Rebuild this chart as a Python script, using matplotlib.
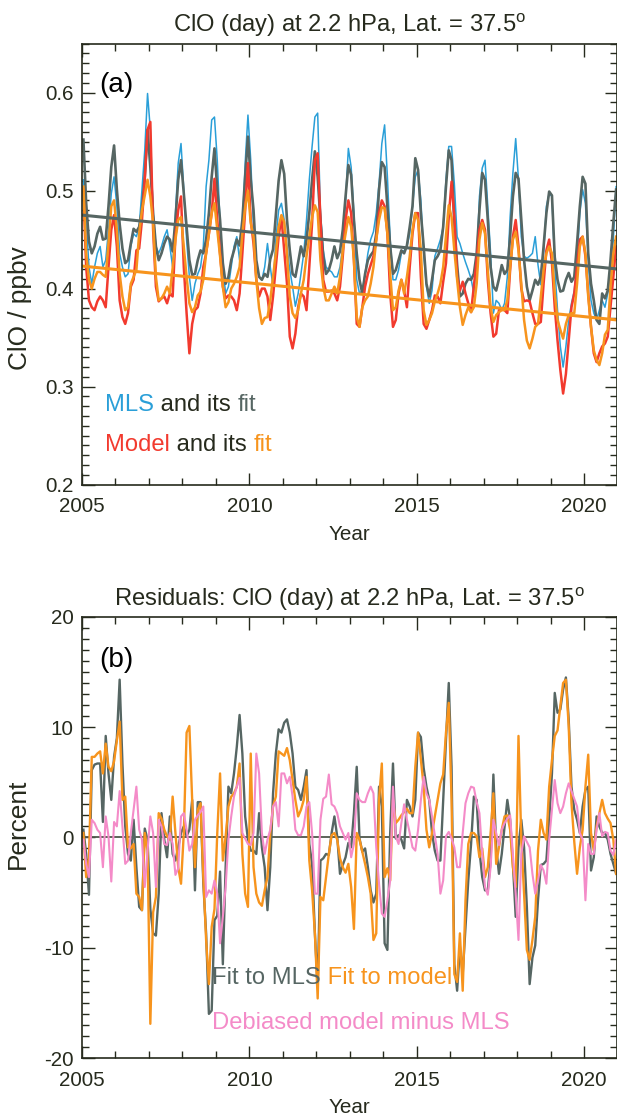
import matplotlib
matplotlib.use("Agg")
import matplotlib.pyplot as plt
from matplotlib import font_manager
from matplotlib.ticker import MultipleLocator, FormatStrFormatter
import numpy as np

# ---- monthly ClO at 2.2 hPa, 37.5 deg, Jan 2005 .. Dec 2020 (ppbv) ----
mls = [
    0.511, 0.470, 0.422, 0.405, 0.422, 0.436, 0.443, 0.422, 0.429, 0.460, 0.497, 0.514,
    0.484, 0.436, 0.422, 0.412, 0.415, 0.443, 0.456, 0.453, 0.463, 0.501, 0.541, 0.599,
    0.562, 0.477, 0.443, 0.436, 0.443, 0.453, 0.460, 0.443, 0.422, 0.477, 0.528, 0.548,
    0.501, 0.450, 0.412, 0.388, 0.405, 0.415, 0.422, 0.443, 0.504, 0.531, 0.572, 0.575,
    0.531, 0.467, 0.422, 0.395, 0.402, 0.422, 0.443, 0.453, 0.429, 0.463, 0.528, 0.577,
    0.531, 0.463, 0.422, 0.412, 0.409, 0.422, 0.446, 0.422, 0.402, 0.450, 0.480, 0.487,
    0.470, 0.443, 0.419, 0.402, 0.382, 0.395, 0.415, 0.436, 0.470, 0.511, 0.545, 0.575,
    0.579, 0.477, 0.439, 0.422, 0.419, 0.417, 0.412, 0.412, 0.422, 0.443, 0.490, 0.543,
    0.524, 0.477, 0.409, 0.395, 0.398, 0.415, 0.436, 0.450, 0.458, 0.477, 0.507, 0.548,
    0.567, 0.514, 0.450, 0.409, 0.409, 0.419, 0.436, 0.439, 0.443, 0.456, 0.484, 0.514,
    0.521, 0.490, 0.436, 0.402, 0.385, 0.398, 0.433, 0.441, 0.450, 0.463, 0.511, 0.545,
    0.545, 0.507, 0.453, 0.446, 0.436, 0.427, 0.419, 0.410, 0.395, 0.429, 0.494, 0.523,
    0.531, 0.484, 0.436, 0.375, 0.388, 0.385, 0.378, 0.385, 0.412, 0.473, 0.518, 0.553,
    0.511, 0.453, 0.433, 0.431, 0.433, 0.436, 0.453, 0.424, 0.404, 0.436, 0.484, 0.497,
    0.494, 0.422, 0.378, 0.341, 0.320, 0.341, 0.368, 0.385, 0.398, 0.429, 0.477, 0.501,
    0.487, 0.429, 0.388, 0.375, 0.368, 0.378, 0.388, 0.381, 0.395, 0.415, 0.450, 0.504,
]
mls_fit = [
    0.552, 0.487, 0.448, 0.436, 0.443, 0.456, 0.463, 0.450, 0.451, 0.484, 0.524, 0.546,
    0.501, 0.466, 0.441, 0.426, 0.429, 0.446, 0.461, 0.458, 0.463, 0.480, 0.514, 0.562,
    0.524, 0.477, 0.443, 0.429, 0.436, 0.446, 0.453, 0.450, 0.438, 0.470, 0.511, 0.531,
    0.497, 0.463, 0.429, 0.414, 0.415, 0.429, 0.439, 0.436, 0.450, 0.477, 0.514, 0.543,
    0.501, 0.470, 0.426, 0.405, 0.412, 0.429, 0.439, 0.450, 0.444, 0.470, 0.514, 0.555,
    0.511, 0.480, 0.429, 0.412, 0.409, 0.415, 0.412, 0.430, 0.440, 0.475, 0.510, 0.531,
    0.517, 0.470, 0.439, 0.415, 0.412, 0.427, 0.443, 0.433, 0.450, 0.477, 0.511, 0.540,
    0.514, 0.470, 0.433, 0.415, 0.419, 0.429, 0.443, 0.431, 0.438, 0.460, 0.494, 0.526,
    0.516, 0.470, 0.436, 0.409, 0.395, 0.415, 0.429, 0.434, 0.438, 0.456, 0.501, 0.529,
    0.524, 0.484, 0.443, 0.415, 0.419, 0.429, 0.439, 0.436, 0.444, 0.463, 0.484, 0.533,
    0.521, 0.477, 0.443, 0.405, 0.392, 0.409, 0.429, 0.433, 0.439, 0.463, 0.504, 0.541,
    0.531, 0.467, 0.424, 0.392, 0.395, 0.405, 0.410, 0.409, 0.415, 0.436, 0.480, 0.518,
    0.511, 0.470, 0.422, 0.402, 0.398, 0.410, 0.424, 0.415, 0.419, 0.453, 0.494, 0.518,
    0.512, 0.470, 0.429, 0.402, 0.388, 0.398, 0.409, 0.404, 0.412, 0.443, 0.477, 0.499,
    0.495, 0.432, 0.409, 0.397, 0.398, 0.409, 0.416, 0.407, 0.412, 0.446, 0.484, 0.514,
    0.507, 0.436, 0.405, 0.388, 0.368, 0.364, 0.395, 0.390, 0.398, 0.429, 0.467, 0.501,
]
model = [
    0.501, 0.422, 0.388, 0.381, 0.378, 0.387, 0.392, 0.388, 0.381, 0.422, 0.460, 0.475,
    0.443, 0.388, 0.371, 0.364, 0.375, 0.402, 0.409, 0.439, 0.441, 0.470, 0.511, 0.562,
    0.570, 0.460, 0.402, 0.387, 0.390, 0.392, 0.385, 0.395, 0.392, 0.453, 0.480, 0.494,
    0.422, 0.375, 0.334, 0.364, 0.378, 0.381, 0.395, 0.422, 0.436, 0.456, 0.477, 0.512,
    0.470, 0.436, 0.402, 0.390, 0.393, 0.392, 0.388, 0.378, 0.395, 0.436, 0.480, 0.528,
    0.470, 0.446, 0.409, 0.392, 0.400, 0.400, 0.392, 0.368, 0.392, 0.422, 0.453, 0.473,
    0.439, 0.405, 0.351, 0.339, 0.354, 0.381, 0.395, 0.392, 0.378, 0.422, 0.467, 0.531,
    0.538, 0.470, 0.409, 0.397, 0.397, 0.398, 0.395, 0.388, 0.402, 0.433, 0.470, 0.490,
    0.477, 0.429, 0.364, 0.361, 0.381, 0.402, 0.415, 0.424, 0.433, 0.450, 0.477, 0.490,
    0.484, 0.456, 0.395, 0.361, 0.368, 0.395, 0.409, 0.398, 0.381, 0.422, 0.456, 0.477,
    0.477, 0.412, 0.364, 0.359, 0.368, 0.378, 0.393, 0.392, 0.385, 0.407, 0.426, 0.473,
    0.509, 0.473, 0.412, 0.398, 0.407, 0.395, 0.385, 0.376, 0.402, 0.429, 0.460, 0.470,
    0.460, 0.409, 0.375, 0.351, 0.354, 0.378, 0.380, 0.378, 0.375, 0.419, 0.453, 0.470,
    0.443, 0.400, 0.387, 0.388, 0.387, 0.375, 0.364, 0.364, 0.366, 0.405, 0.439, 0.450,
    0.426, 0.381, 0.347, 0.317, 0.293, 0.313, 0.347, 0.381, 0.395, 0.422, 0.450, 0.453,
    0.433, 0.395, 0.361, 0.334, 0.325, 0.334, 0.341, 0.344, 0.351, 0.381, 0.412, 0.443,
]
model_fit = [
    0.504, 0.436, 0.409, 0.400, 0.410, 0.417, 0.417, 0.414, 0.412, 0.446, 0.484, 0.490,
    0.460, 0.415, 0.392, 0.378, 0.381, 0.405, 0.412, 0.419, 0.456, 0.480, 0.495, 0.511,
    0.494, 0.467, 0.412, 0.388, 0.390, 0.395, 0.402, 0.395, 0.421, 0.450, 0.470, 0.473,
    0.443, 0.412, 0.385, 0.376, 0.381, 0.393, 0.397, 0.409, 0.436, 0.456, 0.477, 0.487,
    0.460, 0.433, 0.402, 0.381, 0.386, 0.400, 0.405, 0.412, 0.422, 0.456, 0.483, 0.500,
    0.467, 0.453, 0.409, 0.380, 0.364, 0.370, 0.371, 0.388, 0.412, 0.436, 0.463, 0.475,
    0.468, 0.436, 0.392, 0.375, 0.370, 0.378, 0.395, 0.409, 0.433, 0.453, 0.473, 0.485,
    0.478, 0.429, 0.402, 0.388, 0.388, 0.395, 0.402, 0.395, 0.412, 0.439, 0.456, 0.473,
    0.463, 0.429, 0.371, 0.361, 0.381, 0.388, 0.392, 0.405, 0.422, 0.450, 0.470, 0.483,
    0.482, 0.456, 0.415, 0.378, 0.381, 0.398, 0.409, 0.395, 0.412, 0.433, 0.460, 0.477,
    0.470, 0.439, 0.378, 0.363, 0.368, 0.375, 0.387, 0.395, 0.405, 0.422, 0.453, 0.485,
    0.473, 0.439, 0.409, 0.381, 0.363, 0.373, 0.381, 0.376, 0.381, 0.405, 0.450, 0.467,
    0.456, 0.419, 0.381, 0.366, 0.373, 0.376, 0.378, 0.378, 0.388, 0.422, 0.450, 0.458,
    0.439, 0.405, 0.368, 0.347, 0.339, 0.349, 0.361, 0.364, 0.392, 0.419, 0.436, 0.443,
    0.436, 0.395, 0.368, 0.358, 0.349, 0.364, 0.373, 0.375, 0.375, 0.405, 0.443, 0.453,
    0.436, 0.392, 0.361, 0.337, 0.327, 0.322, 0.334, 0.353, 0.358, 0.402, 0.436, 0.453,
]
# linear trends of the two fits, at 2005.0 and 2021.0
trend_years = [2005.0, 2021.0]
mls_trend = [0.475, 0.420]
model_trend = [0.423, 0.368]

# ---- residuals (percent) ----
resid_mls = [
    0.7, -1.5, -5.2, 6.1, 6.6, 6.7, 6.7, 1.4, 9.2, 5.8, 3.4, 7.3,
    9.0, 14.3, 6.7, 1.0, -1.5, -2.1, 1.6, -2.7, -6.3, -6.6, 0.8, -0.2,
    -6.5, -8.7, -8.9, -5.1, 2.2, -0.2, -1.8, 1.9, -1.5, -2.1, -0.9, 0.4,
    1.0, 0.1, 0.7, 3.4, -4.8, 3.2, 3.2, -4.2, -8.7, -16.0, -15.7, -7.5,
    -7.1, -3.1, -11.5, -2.7, 4.6, 4.0, 5.8, 8.2, 11.1, 7.6, 1.9, -0.2,
    -1.2, -1.2, -1.5, 2.2, -0.9, -2.7, -6.6, -2.7, 4.0, 7.6, 9.8, 9.5,
    10.4, 10.7, 9.5, 7.6, 4.6, 4.3, 3.4, 4.6, 6.1, -0.6, -2.4, -8.7,
    -13.6, -2.1, -1.9, -1.5, -1.6, 0.4, 1.9, 0.1, -3.3, -2.5, -1.8, -0.5,
    -0.9, 2.2, 6.4, -0.1, -1.3, -1.0, -2.7, -4.8, -5.9, -5.1, 4.6, 2.8,
    -9.6, -10.2, 0.4, 6.7, -0.1, 0.2, -0.2, -1.0, 3.4, 2.8, 1.9, 3.4,
    9.5, 9.1, 6.3, 4.6, 3.4, 0.4, -1.2, -2.1, -2.1, 3.4, 8.8, 14.0,
    6.4, -11.5, -13.9, -9.9, -12.4, -8.1, -3.9, -0.6, 3.7, 3.4, -1.2, -3.6,
    -4.8, -4.8, -2.1, 5.7, -0.9, -3.3, -1.5, 1.0, 3.4, 1.6, -2.4, -7.2,
    -0.9, 1.6, -0.9, -6.3, -13.3, -10.9, -9.8, -5.7, -2.5, -2.4, -2.1, 1.6,
    5.8, 13.1, 11.3, 11.6, 13.4, 14.5, 10.7, 4.6, 2.5, 1.6, 0.4, 2.8,
    4.3, 4.6, -3.0, -1.8, 1.9, 1.0, 0.4, 0.4, -0.2, -1.5, -2.4, -3.3,
]
resid_model = [
    0.4, -3.6, -1.8, 7.3, 7.3, 7.6, 7.8, 5.8, 8.5, 6.4, 6.0, 6.9,
    8.8, 10.5, 3.4, 3.7, -0.9, -1.0, -0.6, -5.1, -5.4, -6.6, 0.4, -1.2,
    -16.9, -6.8, -5.4, 2.2, 1.7, 0.7, 0.1, -0.2, 3.7, 0.4, -2.7, -4.2,
    0.4, 9.5, 10.1, 3.4, -2.7, 2.5, 3.1, -3.6, -9.3, -13.3, -8.1, -6.5,
    0.4, 5.8, -2.1, 0.1, 2.8, 3.7, 4.0, 4.6, 6.7, -1.5, -5.1, -6.3,
    7.6, -2.7, -5.1, -5.9, -6.2, -4.8, -3.6, 0.4, 2.8, 3.7, 7.8, 7.6,
    7.4, 8.1, 7.0, 5.2, 3.4, 1.9, 2.5, 3.4, 5.5, -2.1, -4.8, -8.7,
    -14.6, -5.4, -5.7, -3.6, -1.5, 0.2, 0.4, -0.2, -1.9, -2.7, -3.2, -2.4,
    -4.5, -8.3, 0.4, -0.2, -1.3, -2.4, -3.6, -5.1, -9.3, -8.7, 3.4, 6.7,
    -3.6, -2.8, -3.9, 3.4, 1.3, 1.6, 2.0, 2.3, 2.6, 2.2, 2.2, 6.4,
    9.5, 7.0, 4.6, 0.7, -0.9, 0.4, 1.9, 3.4, 4.9, 5.7, 9.5, 12.2,
    3.4, -12.4, -13.1, -8.7, -13.9, -5.7, -0.6, 0.4, 0.4, 0.1, -1.8, -1.0,
    -3.6, -2.7, 0.4, 4.0, -2.4, -0.9, 0.7, 1.9, 2.0, 0.7, -2.7, -4.5,
    9.2, -0.2, -5.1, -10.2, -11.1, -9.3, -7.2, -1.2, 1.6, 0.4, -0.2, 4.6,
    7.0, 9.2, 9.7, 11.9, 14.0, 14.3, 10.1, 3.1, -0.4, -3.3, -0.9, 0.7,
    4.6, 7.5, 0.4, -1.2, 1.0, 2.2, 3.4, 2.2, 1.7, 1.3, -0.2, -3.3,
]
debiased = [
    -0.2, -2.4, -3.6, 1.6, 1.3, 0.7, 0.4, -2.7, 1.9, 0.1, -4.0, 1.4,
    1.0, 4.2, 1.0, -2.4, -2.1, 0.4, 2.5, 4.6, 0.7, -0.2, -4.5, -1.2,
    1.9, 0.4, -4.5, 1.6, 1.0, -0.6, -0.7, 0.4, -0.6, -3.4, -2.8, 1.9,
    2.2, 0.7, -1.2, -0.6, 1.6, 2.0, 2.3, 2.8, -5.4, -4.8, -5.1, -3.9,
    -5.1, -9.6, -7.2, -4.5, -0.2, 1.9, 3.7, 4.6, 5.4, 0.4, -0.1, -0.6,
    -0.7, 0.4, 7.6, 5.8, 0.4, -1.5, -0.2, 0.7, 2.8, 3.2, 1.0, 5.8,
    5.8, 4.9, 5.5, 3.7, 0.7, 0.2, 0.2, 1.0, 2.8, 3.2, 0.4, -5.1,
    -5.1, 1.6, 3.5, 3.7, 5.7, 3.0, 2.8, 2.2, 1.0, 0.4, -0.2, 0.4,
    -1.8, -0.6, 4.0, 3.4, 3.2, 3.2, 4.0, 4.6, 4.0, -0.9, -4.2, -6.9,
    -7.2, -5.7, -3.9, 4.6, 0.1, -0.6, 1.3, 3.0, 1.6, 0.4, -0.9, -1.2,
    0.7, 3.4, 5.5, 4.0, 3.4, 1.9, 0.2, -1.5, -5.1, -3.9, 0.1, 0.5,
    -0.1, -0.9, -2.7, -2.7, 0.4, 3.1, 4.0, 4.6, 4.5, 3.2, 2.2, -1.5,
    -4.5, -5.2, -2.7, 1.6, 0.4, -0.7, 0.7, 1.3, 1.7, 2.0, -1.5, -5.1,
    -9.3, -1.5, 0.1, -0.4, -0.9, -3.3, -5.1, -3.9, -2.5, -3.0, -4.2, -0.2,
    2.5, 5.2, 3.1, 2.2, 2.8, 4.0, 4.9, 4.2, 3.5, 2.8, 0.4, -0.2,
    -5.7, -0.6, -1.5, -1.5, 0.7, 2.2, 0.1, 0.5, 0.4, -1.2, -1.6, -0.2,
]

months = np.arange(len(mls))
years = 2005 + (months + 0.5) / 12.0

# ---- style ----
names = {f.name for f in font_manager.fontManager.ttflist}
if "Liberation Sans Narrow" in names:
    FONT, scale = "Liberation Sans Narrow", 1.0
else:
    FONT, scale = "Liberation Sans", 0.9
plt.rcParams["font.family"] = FONT
plt.rcParams["mathtext.fontset"] = "custom"
plt.rcParams["mathtext.rm"] = FONT
plt.rcParams["axes.unicode_minus"] = False

INK = "#262a1d"
C_MLS = "#2a9fd8"
C_MLSFIT = "#566663"
C_MODEL = "#f23a2e"
C_MODELFIT = "#f7941d"
C_PINK = "#f48bc8"

fs_tick = 16.5 * scale
fs_title = 19 * scale
fs_text = 19 * scale
fs_ylab = 21 * scale

fig = plt.figure(figsize=(6.17, 11.17), dpi=100)
W, H = 617.0, 1117.0
ax1 = fig.add_axes([82 / W, (H - 484.7) / H, 535.5 / W, 441.2 / H])
ax2 = fig.add_axes([82 / W, (H - 1058.0) / H, 535.5 / W, 441.2 / H])


def style_axes(ax):
    ax.set_xlim(2005, 2021)
    ax.xaxis.set_major_locator(MultipleLocator(5))
    ax.xaxis.set_minor_locator(MultipleLocator(1))
    ax.tick_params(which="both", direction="in", top=True, right=True,
                   color=INK, labelcolor=INK, labelsize=fs_tick, width=1.0)
    ax.tick_params(which="major", length=9)
    ax.tick_params(which="minor", length=5)
    ax.tick_params(axis="x", pad=9)
    ax.tick_params(axis="y", pad=6)
    for s in ax.spines.values():
        s.set_color(INK)
        s.set_linewidth(1.2)
    ax.set_xlabel("Year", fontsize=fs_tick, color=INK, labelpad=6)


def colored_text(ax, x, y, parts, size):
    t = ax.text(x, y, parts[0][0], color=parts[0][1], fontsize=size,
                transform=ax.transAxes, va="center", ha="left")
    for s, c in parts[1:]:
        t = ax.annotate(s, xy=(1, 0), xycoords=t, va="bottom", ha="left",
                        color=c, fontsize=size)


# ---- panel (a) ----
ax1.plot(years, mls, color=C_MLS, lw=1.1)
ax1.plot(years, mls_fit, color=C_MLSFIT, lw=1.9)
ax1.plot(years, model, color=C_MODEL, lw=1.8)
ax1.plot(years, model_fit, color=C_MODELFIT, lw=1.8)
ax1.plot(trend_years, mls_trend, color=C_MLSFIT, lw=2.2)
ax1.plot(trend_years, model_trend, color=C_MODELFIT, lw=2.2)

style_axes(ax1)
ax1.set_ylim(0.2, 0.65)
ax1.yaxis.set_major_locator(MultipleLocator(0.1))
ax1.yaxis.set_minor_locator(MultipleLocator(0.01))
ax1.yaxis.set_major_formatter(FormatStrFormatter("%.1f"))
ax1.set_ylabel("ClO / ppbv", fontsize=fs_ylab, color=INK)
ax1.yaxis.set_label_coords(-0.094, 0.40)
ax1.set_title("ClO (day) at 2.2 hPa, Lat. = 37.5$^{\\rm o}$",
              fontsize=fs_title, color=INK, pad=8)
ax1.text(0.032, 0.905, "(a)", transform=ax1.transAxes, fontsize=fs_text + 3,
         color="black", va="center")
colored_text(ax1, 0.043, 0.181,
             [("MLS", C_MLS), (" and its ", INK), ("fit", C_MLSFIT)], fs_text)
colored_text(ax1, 0.043, 0.090,
             [("Model", C_MODEL), (" and its ", INK), ("fit", C_MODELFIT)], fs_text)

# ---- panel (b) ----
ax2.axhline(0, color="#4f574b", lw=1.3)
ax2.plot(years, resid_mls, color=C_MLSFIT, lw=1.7)
ax2.plot(years, resid_model, color=C_MODELFIT, lw=1.7)
ax2.plot(years, debiased, color=C_PINK, lw=1.5)

style_axes(ax2)
ax2.set_ylim(-20, 20)
ax2.yaxis.set_major_locator(MultipleLocator(10))
ax2.yaxis.set_minor_locator(MultipleLocator(1))
ax2.set_ylabel("Percent", fontsize=fs_ylab, color=INK)
ax2.yaxis.set_label_coords(-0.097, 0.53)
ax2.set_title("Residuals: ClO (day) at 2.2 hPa, Lat. = 37.5$^{\\rm o}$",
              fontsize=fs_title, color=INK, pad=8)
ax2.text(0.032, 0.902, "(b)", transform=ax2.transAxes, fontsize=fs_text + 3,
         color="black", va="center")
colored_text(ax2, 0.243, 0.181,
             [("Fit to MLS", C_MLSFIT), (" Fit to model", C_MODELFIT)], fs_text)
colored_text(ax2, 0.243, 0.079,
             [("Debiased model minus MLS", C_PINK)], fs_text)

fig.savefig("out.png", dpi=100)
